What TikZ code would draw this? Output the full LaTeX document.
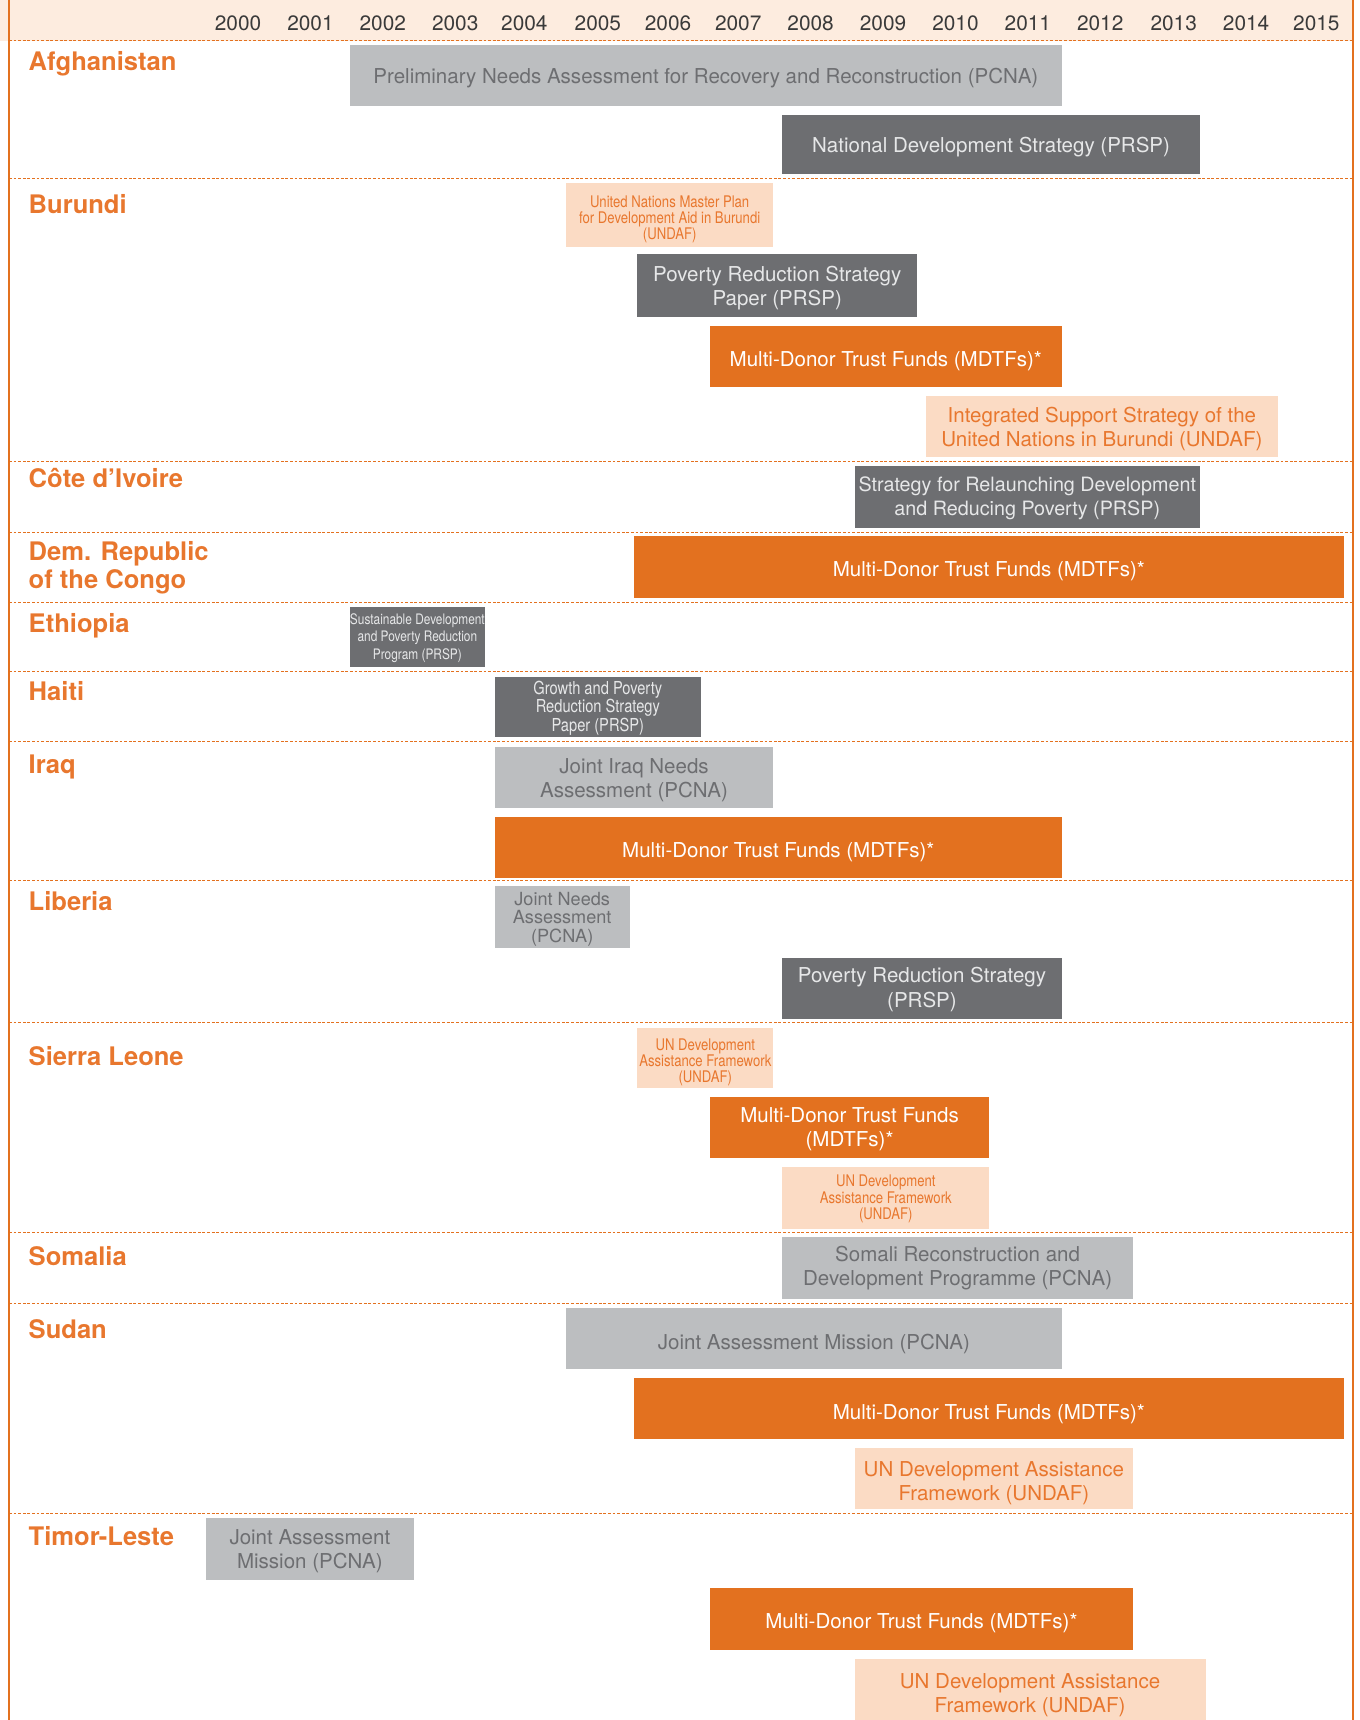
\documentclass[tikz,border=0pt]{standalone}
\usepackage{fontspec}
\setmainfont{TeX Gyre Heros}
\newfontfamily\condf[FakeStretch=0.82]{TeX Gyre Heros}
\definecolor{orangeA}{HTML}{E3711F}
\definecolor{orangeT}{HTML}{E8772E}
\definecolor{peach}{HTML}{FBDBC4}
\definecolor{headbg}{HTML}{FDECDF}
\definecolor{lgray}{HTML}{BCBEC0}
\definecolor{dgray}{HTML}{6D6E71}
\definecolor{ltext}{HTML}{E6E7E8}
\definecolor{yeartext}{HTML}{3A3A3A}
\tikzset{
  bar/.style={inner sep=0pt, draw=none},
  pcna/.style={bar, fill=lgray},
  prsp/.style={bar, fill=dgray},
  mdtf/.style={bar, fill=orangeA},
  undaf/.style={bar, fill=peach},
  lbl/.style={inner sep=0pt, align=center},
  pcnat/.style={lbl, text=dgray},
  prspt/.style={lbl, text=ltext},
  mdtft/.style={lbl, text=white},
  undaft/.style={lbl, text=orangeT},
  txtbig/.style={font=\fontsize{18.7}{22}\selectfont},
  txtbign/.style={font=\fontsize{18.0}{22}\selectfont},
  txtmid/.style={font=\fontsize{16.5}{17}\selectfont},
  txtcmid/.style={font=\condf\fontsize{16.3}{17}\selectfont},
  txtcsmall/.style={font=\condf\fontsize{14.6}{15}\selectfont},
  txtctiny/.style={font=\condf\fontsize{13.2}{16}\selectfont},
  country/.style={anchor=base west, inner sep=0pt, text=orangeT, align=left,
    font=\bfseries\fontsize{23.3}{25}\selectfont},
  year/.style={text=yeartext, inner sep=0pt, font=\fontsize{19}{21}\selectfont},
  sep/.style={orangeA, line width=0.9pt, dash pattern=on 2.6pt off 1.6pt},
  border/.style={orangeA, line width=1.8pt},
}
% #1 kind, #2 text size style, #3 name, #4-#7 x1,y1,x2,y2, #8 text shift down, #9 text
\newcommand\gbox[9]{%
  \node[#1, minimum width={(#6-#4)*1pt}, minimum height={(#7-#5)*1pt}]
    (#3) at ({(#4+#6)/2},{(#5+#7)/2}) {};
  \node[#1t, #2] (#3t) at ([yshift={-#8pt}]#3.center) {#9};}
\begin{document}
\begin{tikzpicture}[x=1pt, y=-1pt]
\useasboundingbox (0,0) rectangle (1239,1568);
% header
\fill[headbg] (0,0) rectangle (1233,37);
\foreach \yr/\xc in {2000/217,2001/283,2002/349,2003/415,2004/478,2005/545,2006/609,2007/673,2008/739,2009/805,2010/871,2011/937,2012/1003,2013/1070,2014/1136,2015/1200}
  \node[year] (y\yr) at (\xc,21) {\yr};
% separators
\foreach \yy in {37,163,421,485,549,612,676,803,932,1124,1188,1380}
  \draw[sep] (8.2,\yy) -- (1233.5,\yy);
% borders
\draw[border] (8.2,0) -- (8.2,1568);
\draw[border] (1233.5,0) -- (1233.5,1568);
% countries
\node[country] (afg) at (26,64) {Afghanistan};
\node[country] (bur) at (26,195) {Burundi};
\node[country] (civ) at (26,444) {Côte d'Ivoire};
\node[country, anchor=north west] (drc) at (26,493.5) {Dem. Republic\\of the Congo};
\node[country] (eth) at (26,577) {Ethiopia};
\node[country] (hai) at (26,639) {Haiti};
\node[country] (irq) at (26,705) {Iraq};
\node[country] (lib) at (26,830) {Liberia};
\node[country] (sle) at (26,971) {Sierra Leone};
\node[country] (som) at (26,1154) {Somalia};
\node[country] (sud) at (26,1220) {Sudan};
\node[country] (tim) at (26,1409) {Timor-Leste};
% Afghanistan
\gbox{pcna}{txtbig}{b1}{319}{41}{968}{97}{2}{Preliminary Needs Assessment for Recovery and Reconstruction (PCNA)}
\gbox{prsp}{txtbig}{b2}{713}{105}{1094}{159}{2}{National Development Strategy (PRSP)}
% Burundi
\gbox{undaf}{txtcsmall}{b3}{516}{167}{705}{225}{4}{United Nations Master Plan\\for Development Aid in Burundi\\(UNDAF)}
\gbox{prsp}{txtbig}{b4}{581}{232}{836}{289}{2}{Poverty Reduction Strategy\\Paper (PRSP)}
\gbox{mdtf}{txtbig}{b5}{647}{297}{968}{353}{4}{Multi-Donor Trust Funds (MDTFs)*}
\gbox{undaf}{txtbig}{b6}{844}{361}{1165}{417}{2}{Integrated Support Strategy of the\\United Nations in Burundi (UNDAF)}
% Cote d'Ivoire
\gbox{prsp}{txtbign}{b7}{779}{425}{1094}{481}{1}{Strategy for Relaunching Development\\and Reducing Poverty (PRSP)}
% DRC
\gbox{mdtf}{txtbig}{b8}{578}{489}{1225}{545}{4}{Multi-Donor Trust Funds (MDTFs)*}
% Ethiopia
\gbox{prsp}{txtctiny}{b9}{319}{553}{442}{608}{1}{Sustainable Development\\and Poverty Reduction\\Program (PRSP)}
% Haiti
\gbox{prsp}{txtcmid}{b10}{451}{617}{639}{672}{1}{Growth and Poverty\\Reduction Strategy\\Paper (PRSP)}
% Iraq
\gbox{pcna}{txtbig}{b11}{451}{681}{705}{737}{2}{Joint Iraq Needs\\Assessment (PCNA)}
\gbox{mdtf}{txtbig}{b12}{451}{745}{968}{800}{4}{Multi-Donor Trust Funds (MDTFs)*}
% Liberia
\gbox{pcna}{txtmid}{b13}{451}{808}{574}{864}{2}{Joint Needs\\Assessment\\(PCNA)}
\gbox{prsp}{txtbig}{b14}{713}{873}{968}{929}{1}{Poverty Reduction Strategy\\(PRSP)}
% Sierra Leone
\gbox{undaf}{txtcsmall}{b15}{581}{937}{705}{992}{4}{UN Development\\Assistance Framework\\(UNDAF)}
\gbox{mdtf}{txtbig}{b16}{647}{1000}{902}{1056}{1}{Multi-Donor Trust Funds\\(MDTFs)*}
\gbox{undaf}{txtcsmall}{b17}{713}{1064}{902}{1120}{1}{UN Development\\Assistance Framework\\(UNDAF)}
% Somalia
\gbox{pcna}{txtbig}{b18}{713}{1128}{1033}{1184}{0}{Somali Reconstruction and\\Development Programme (PCNA)}
% Sudan
\gbox{pcna}{txtbig}{b19}{516}{1192}{968}{1248}{5}{Joint Assessment Mission (PCNA)}
\gbox{mdtf}{txtbig}{b20}{578}{1256}{1225}{1312}{5}{Multi-Donor Trust Funds (MDTFs)*}
\gbox{undaf}{txtbig}{b21}{779}{1320}{1033}{1376}{4}{UN Development Assistance\\Framework (UNDAF)}
% Timor-Leste
\gbox{pcna}{txtbig}{b22}{188}{1384}{377}{1440}{2}{Joint Assessment\\Mission (PCNA)}
\gbox{mdtf}{txtbig}{b23}{647}{1448}{1033}{1504}{4}{Multi-Donor Trust Funds (MDTFs)*}
\gbox{undaf}{txtbig}{b24}{779}{1512}{1099}{1568}{5}{UN Development Assistance\\Framework (UNDAF)}
\end{tikzpicture}
\end{document}
